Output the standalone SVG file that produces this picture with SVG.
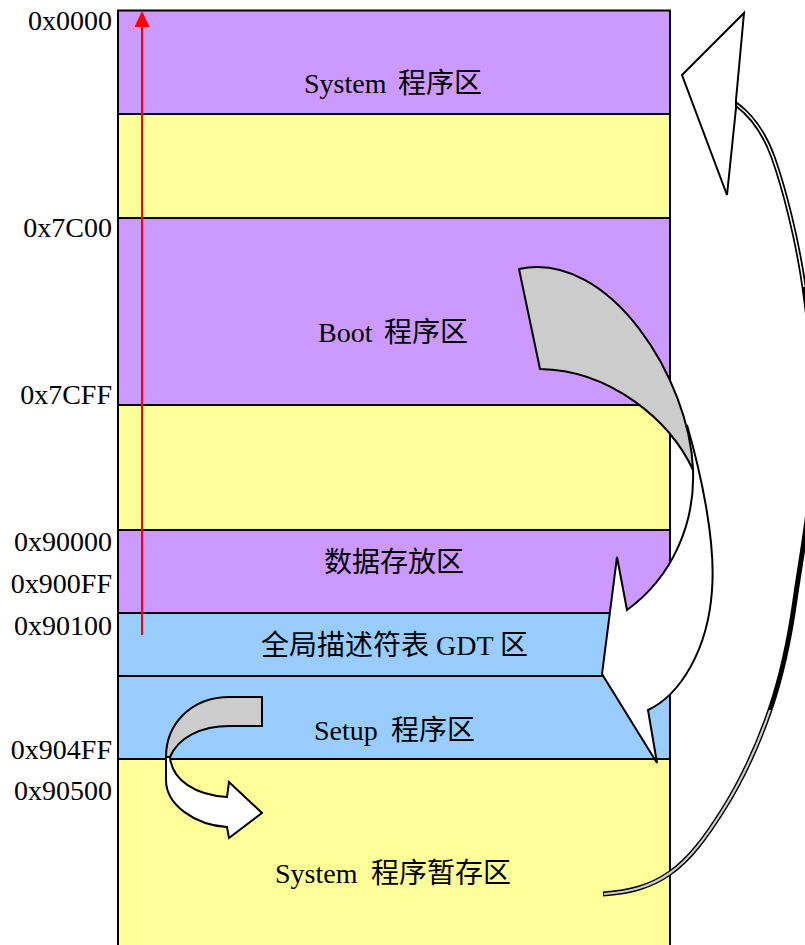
<svg xmlns="http://www.w3.org/2000/svg" width="805" height="945" viewBox="0 0 805 945">
<defs>
<style>
.lbl{font-family:"Liberation Serif","Noto Sans CJK SC",serif;font-size:28px;fill:#000;text-anchor:end}
.t{font-family:"Liberation Serif","Noto Sans CJK SC",serif;font-size:28px;fill:#000}
.cell{stroke:#000;stroke-width:2}
.pur{fill:#CC99FF}.yel{fill:#FFFF99}.blu{fill:#99CCFF}
.ar{stroke:#000;stroke-width:2;stroke-linejoin:miter}
</style>
</defs>
<rect width="805" height="945" fill="#fff"/>
<g id="memory">
<g id="r-system"><rect class="cell pur" x="118" y="10.5" width="552" height="103.5"/></g>
<g id="r-free1"><rect class="cell yel" x="118" y="114" width="552" height="104"/></g>
<g id="r-boot"><rect class="cell pur" x="118" y="218" width="552" height="187"/></g>
<g id="r-free2"><rect class="cell yel" x="118" y="405" width="552" height="125"/></g>
<g id="r-data"><rect class="cell pur" x="118" y="530" width="552" height="83"/></g>
<g id="r-gdt"><rect class="cell blu" x="118" y="613" width="552" height="63"/></g>
<g id="r-setup"><rect class="cell blu" x="118" y="676" width="552" height="83"/></g>
<g id="r-systemtmp"><rect class="cell yel" x="118" y="759" width="552" height="190"/></g>
</g>
<g id="labels">
<text class="lbl" x="112" y="30">0x0000</text>
<text class="lbl" x="112" y="237">0x7C00</text>
<text class="lbl" x="112" y="404">0x7CFF</text>
<text class="lbl" x="112" y="551">0x90000</text>
<text class="lbl" x="112" y="593">0x900FF</text>
<text class="lbl" x="112" y="635">0x90100</text>
<text class="lbl" x="112" y="759">0x904FF</text>
<text class="lbl" x="112" y="800">0x90500</text>
</g>
<g id="connectors">
<g id="red-arrow">
<line x1="142" y1="635" x2="142" y2="24" stroke="#FF0000" stroke-width="2"/>
<polygon points="142,11 134.5,27 149.5,27" fill="#FF0000"/>
</g>
<g id="mid-arrow">
<path class="ar" fill="#fff" d="M687,425 C700,470 716,540 712,590 C708,650 680,695 648,710 L657,763 L602,674 L617,557 L627,610 C675,575 695,520 693,470 Z"/>
<path class="ar" fill="#CCCCCC" d="M519,269 C610,250 690,380 693,470 C670,420 610,370 540,369 Z"/>
</g>
<g id="small-arrow">
<path class="ar" fill="#fff" d="M166,757 L166,780 C166,805 195,825 227,827 L229,838 L262,813 L229,782 L227,797 C195,795 172,780 170,757 Z"/>
<path class="ar" fill="#CCCCCC" d="M262,697 L262,726 L230,726 C200,726 178,738 170,757 L166,757 C166,725 190,697 230,697 Z"/>
</g>
<g id="big-arrow">
<path fill="none" stroke="#000" stroke-width="5" d="M603,894 C630,892 650,887 670,873 C690,859 706,837 723,810 C740,783 758,745 770,710 C782,675 789,643 795,600 C801,557 812,502 814,450 C816,398 811,336 804,287 C797,238 784,188 773,157 C762,127 748,113 736,104"/>
<path fill="none" stroke="#CCCCCC" stroke-width="2.2" d="M604,894 C630,892 650,887 670,873 C690,859 706,837 723,810 C740,783 758,745 770,710"/>
<path fill="none" stroke="#fff" stroke-width="1.5" d="M804,287 C797,238 784,188 773,157 C762,127 748,113 737,105"/>
<polygon class="ar" fill="#fff" points="736,100 744,13 682,75 727,195 736,108"/>
</g>
</g>
<g id="texts">
<text class="t" y="93"><tspan x="304">System</tspan><tspan x="398">程序区</tspan></text>
<text class="t" y="342"><tspan x="318">Boot</tspan><tspan x="384">程序区</tspan></text>
<text class="t" x="324" y="572">数据存放区</text>
<text class="t" y="655"><tspan x="261">全局描述符表</tspan><tspan x="436">GDT</tspan><tspan x="500">区</tspan></text>
<text class="t" y="740"><tspan x="314">Setup</tspan><tspan x="391">程序区</tspan></text>
<text class="t" y="883"><tspan x="275">System</tspan><tspan x="371">程序暂存区</tspan></text>
</g>
</svg>
